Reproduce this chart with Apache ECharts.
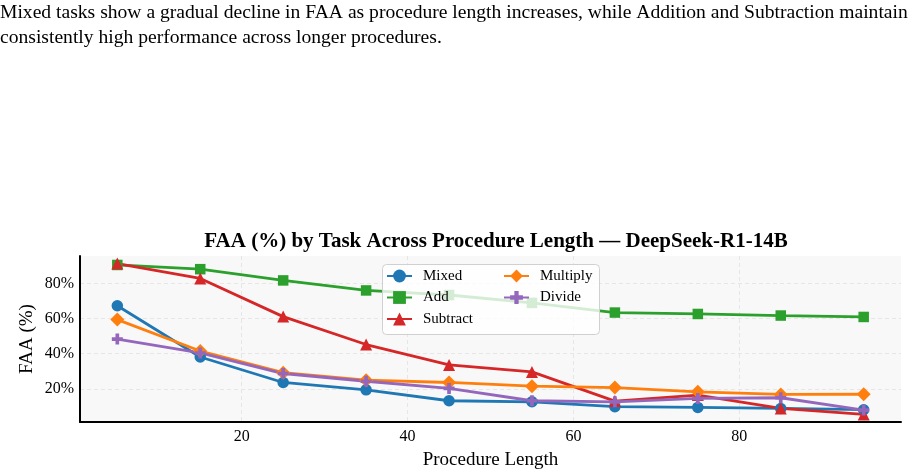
<!DOCTYPE html>
<html>
<head>
<meta charset="utf-8">
<script src="https://cdn.jsdelivr.net/npm/echarts@6/dist/echarts.min.js"></script>
<style>
  html, body { margin: 0; padding: 0; background: #fff; }
  #main { width: 920px; height: 475px; }
</style>
</head>
<body>
<div id="main"></div>
<script>
// procedure lengths (x) and FAA values in %
var lengths = [5, 15, 25, 35, 45, 55, 65, 75, 85, 95];
var mixed    = [67.3, 38.1, 23.6, 19.4, 13.2, 12.6, 9.8, 9.4, 8.8, 8.1];
var add      = [90.5, 88.1, 81.7, 76.0, 73.4, 68.9, 63.4, 62.6, 61.7, 60.9];
var subtract = [91.3, 82.8, 61.1, 45.2, 33.6, 29.6, 13.0, 16.4, 8.8, 5.4];
var multiply = [59.4, 41.5, 29.2, 24.9, 23.6, 21.5, 20.7, 18.3, 16.8, 16.9];
var divide   = [48.3, 40.4, 28.7, 24.3, 20.2, 13.2, 12.6, 14.5, 14.9, 7.9];
var xTicks = [20, 40, 60, 80];
var yTicks = [20, 40, 60, 80];

var serif = '"Liberation Serif", "DejaVu Serif", serif';
var plusPath = 'path://M-1,-3H1V-1H3V1H1V3H-1V1H-3V-1H-1Z';

function pts(vals) {
  return lengths.map(function (x, i) { return [x, vals[i]]; });
}

function mkSeries(name, vals, color, symbol, size) {
  return {
    name: name,
    type: 'line',
    data: pts(vals),
    symbol: symbol,
    symbolSize: size,
    showSymbol: true,
    lineStyle: { color: color, width: 2.8 },
    itemStyle: { color: color, opacity: 1 },
    emphasis: { disabled: true },
    animation: false
  };
}

var legendText = { fontFamily: serif, fontSize: 15, color: '#000', lineHeight: 16, padding: [0, 0, 0, 6] };

var chart = echarts.init(document.getElementById('main'));
var option = {
  backgroundColor: '#fff',
  title: {
    text: 'FAA (%) by Task Across Procedure Length — DeepSeek-R1-14B',
    left: 491,
    top: 226,
    textAlign: 'center',
    textStyle: { fontFamily: serif, fontWeight: 'bold', fontSize: 21, color: '#000' }
  },
  graphic: [
    {
      type: 'text', left: 0, top: 3,
      style: {
        text: 'Mixed tasks show a gradual decline in FAA as procedure length increases, while Addition and Subtraction maintain',
        font: '19.6px ' + serif, fill: '#000'
      }
    },
    {
      type: 'text', left: 0, top: 28,
      style: {
        text: 'consistently high performance across longer procedures.',
        font: '19.6px ' + serif, fill: '#000'
      }
    },
    {
      type: 'rect', left: 382, top: 264, zlevel: 1, z: 1,
      shape: { width: 217, height: 70, r: 4 },
      style: { fill: 'rgba(255,255,255,0.8)', stroke: '#d0d0d0', lineWidth: 1 }
    }
  ],
  legend: [
    {
      data: ['Mixed', 'Add', 'Subtract'],
      orient: 'vertical',
      left: 386, top: 268,
      padding: 0,
      itemWidth: 25, itemHeight: 16, itemGap: 5.5,
      textStyle: legendText,
      zlevel: 1, z: 5
    },
    {
      data: ['Multiply', 'Divide'],
      orient: 'vertical',
      left: 503, top: 268,
      padding: 0,
      itemWidth: 25, itemHeight: 16, itemGap: 5.5,
      textStyle: legendText,
      zlevel: 1, z: 5
    }
  ],
  grid: {
    left: 80, right: 19, top: 256, bottom: 53,
    show: true, backgroundColor: '#f8f8f8', borderWidth: 0
  },
  xAxis: {
    type: 'value',
    min: 0.5, max: 99.5,
    name: 'Procedure Length',
    nameLocation: 'middle',
    nameGap: 29,
    nameTextStyle: { fontFamily: serif, fontSize: 19, color: '#000' },
    axisLine: { show: true, onZero: false, lineStyle: { color: '#000', width: 2 } },
    axisTick: { show: false, customValues: xTicks },
    axisLabel: { customValues: xTicks, fontFamily: serif, fontSize: 16, color: '#000', margin: 7 },
    splitLine: { show: true, lineStyle: { color: '#e6e6e6', type: [4, 3], width: 1 } }
  },
  yAxis: {
    type: 'value',
    min: 1.1, max: 95.6,
    name: 'FAA (%)',
    nameLocation: 'middle',
    nameGap: 43,
    nameMoveOverlap: false,
    nameTextStyle: { fontFamily: serif, fontSize: 19, color: '#000' },
    axisLine: { show: true, onZero: false, lineStyle: { color: '#000', width: 2 } },
    axisTick: { show: false, customValues: yTicks },
    axisLabel: {
      customValues: yTicks, fontFamily: serif, fontSize: 16, color: '#000', margin: 6,
      formatter: function (v) { return v + '%'; }
    },
    splitLine: { show: true, lineStyle: { color: '#e6e6e6', type: [4, 3], width: 1 } }
  },
  series: [
    mkSeries('Mixed', mixed, '#1f77b4', 'circle', 11.5),
    mkSeries('Add', add, '#2ca02c', 'rect', 10.5),
    mkSeries('Subtract', subtract, '#d62728', 'triangle', 12),
    mkSeries('Multiply', multiply, '#ff7f0e', 'diamond', 14),
    mkSeries('Divide', divide, '#9467bd', plusPath, 11)
  ]
};
chart.setOption(option);
</script>
</body>
</html>
